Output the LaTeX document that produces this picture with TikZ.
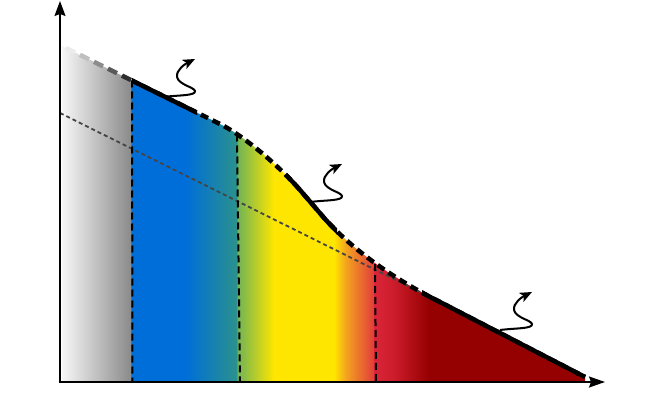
\documentclass[tikz,border=0pt]{standalone}
\usetikzlibrary{arrows.meta}
\definecolor{gA}{HTML}{F8F8F8}
\definecolor{gB}{HTML}{8C8C8C}
\definecolor{bl}{HTML}{006ED8}
\definecolor{tl}{HTML}{2A918E}
\definecolor{gr}{HTML}{72B455}
\definecolor{ye}{HTML}{FFE600}
\definecolor{orn}{HTML}{F3A21F}
\definecolor{rdA}{HTML}{E2403A}
\definecolor{rdB}{HTML}{DA2538}
\definecolor{rdC}{HTML}{CC1C2C}
\definecolor{dr}{HTML}{950000}
\definecolor{dotgray}{HTML}{444444}
\pgfdeclarehorizontalshading{spec}{345pt}{color(0pt)=(gA); color(69pt)=(gB); color(70.5pt)=(bl); color(125pt)=(bl); color(175pt)=(tl); color(177pt)=(gr); color(213pt)=(ye); color(273pt)=(ye); color(285pt)=(orn); color(312pt)=(rdA); color(313pt)=(rdB); color(333pt)=(rdC); color(368pt)=(dr); color(530pt)=(dr)}
\newcommand\mycurvedraw[1]{\draw[#1] (61,45.5) -- (220,124) .. controls (245,136.5) and (280,167) .. (300,190) -- (325,219) .. controls (355,252) and (395,279.5) .. (440,302) -- (585,377);}
\tikzset{
  curvestyle/.style={line width=4.5pt},
  curvedash/.style={line width=4.5pt, dash pattern=on 8pt off 5pt},
  vdash/.style={line width=2pt, dash pattern=on 7pt off 4pt},
  dotline/.style={dotgray, line width=1.8pt, dash pattern=on 4pt off 3pt},
  axisline/.style={line width=1.6pt},
  wavy/.pic={\draw[line width=2pt, -{Stealth[length=12pt,width=10pt,inset=3pt]}]
    (0,0) .. controls (15,-2) and (33,-1) .. (32,-6)
    .. controls (31,-10) and (16,-12) .. (14,-20)
    .. controls (13,-27) and (22,-33) .. (32,-38);}
}
\begin{document}
\begin{tikzpicture}[x=1pt,y=-1pt]
\useasboundingbox (0,0) rectangle (665,412);
% fill
\begin{scope}
\clip (61,45.5) -- (220,124) .. controls (245,136.5) and (280,167) .. (300,190) -- (325,219) .. controls (355,252) and (395,279.5) .. (440,302) -- (585,377) -- (585,382) -- (61,382) -- cycle;
\node[inner sep=0pt, outer sep=0pt, anchor=south west] (band) at (61,382) {\pgfuseshading{spec}};
\end{scope}
% coordinates
\coordinate (O) at (60,382);
\coordinate (Ytip) at (60,1);
\coordinate (Xtip) at (605,382);
\coordinate (v1t) at (132,80.5);
\coordinate (v1b) at (132.5,382);
\coordinate (v2t) at (237,134.5);
\coordinate (v2b) at (240,382);
\coordinate (v3t) at (375,264);
\coordinate (v3b) at (376,382);
\coordinate (d1) at (60,113);
\coordinate (d2) at (420,292);
% dotted line
\draw[dotline] (d1) -- (d2);
% vertical dashed lines
\draw[vdash] (v1t) -- (v1b);
\draw[vdash] (v2t) -- (v2b);
\draw[vdash] (v3t) -- (v3b);
% axes
\draw[axisline, {Stealth[length=15pt,width=11pt,inset=2pt]}-{Stealth[length=16pt,width=11pt,inset=2pt]}] (Ytip) -- (O) -- (Xtip);
% gray fading dashes
\foreach \a/\c in {66/8, 80/25, 94/45, 108/65, 122/82}{
  \pgfmathsetmacro\b{\a+9}
  \draw[line width=4.5pt, black!\c] (\a,{45.5+0.494*(\a-61)}) -- (\b,{45.5+0.494*(\b-61)});
}
% dashed curve
\begin{scope}
\clip (132,0) rectangle (600,412);
\mycurvedraw{curvedash}
\end{scope}
% solid portions
\begin{scope}
\clip (132,0) rectangle (197,412);
\mycurvedraw{curvestyle}
\end{scope}
\begin{scope}
\clip (287,0) rectangle (337,412);
\mycurvedraw{curvestyle}
\end{scope}
\begin{scope}
\clip (422,0) rectangle (600,412);
\mycurvedraw{curvestyle}
\end{scope}
% wavy arrows
\pic at (163,97) {wavy};
\pic at (310,202) {wavy};
\pic at (500,330) {wavy};
\end{tikzpicture}
\end{document}
